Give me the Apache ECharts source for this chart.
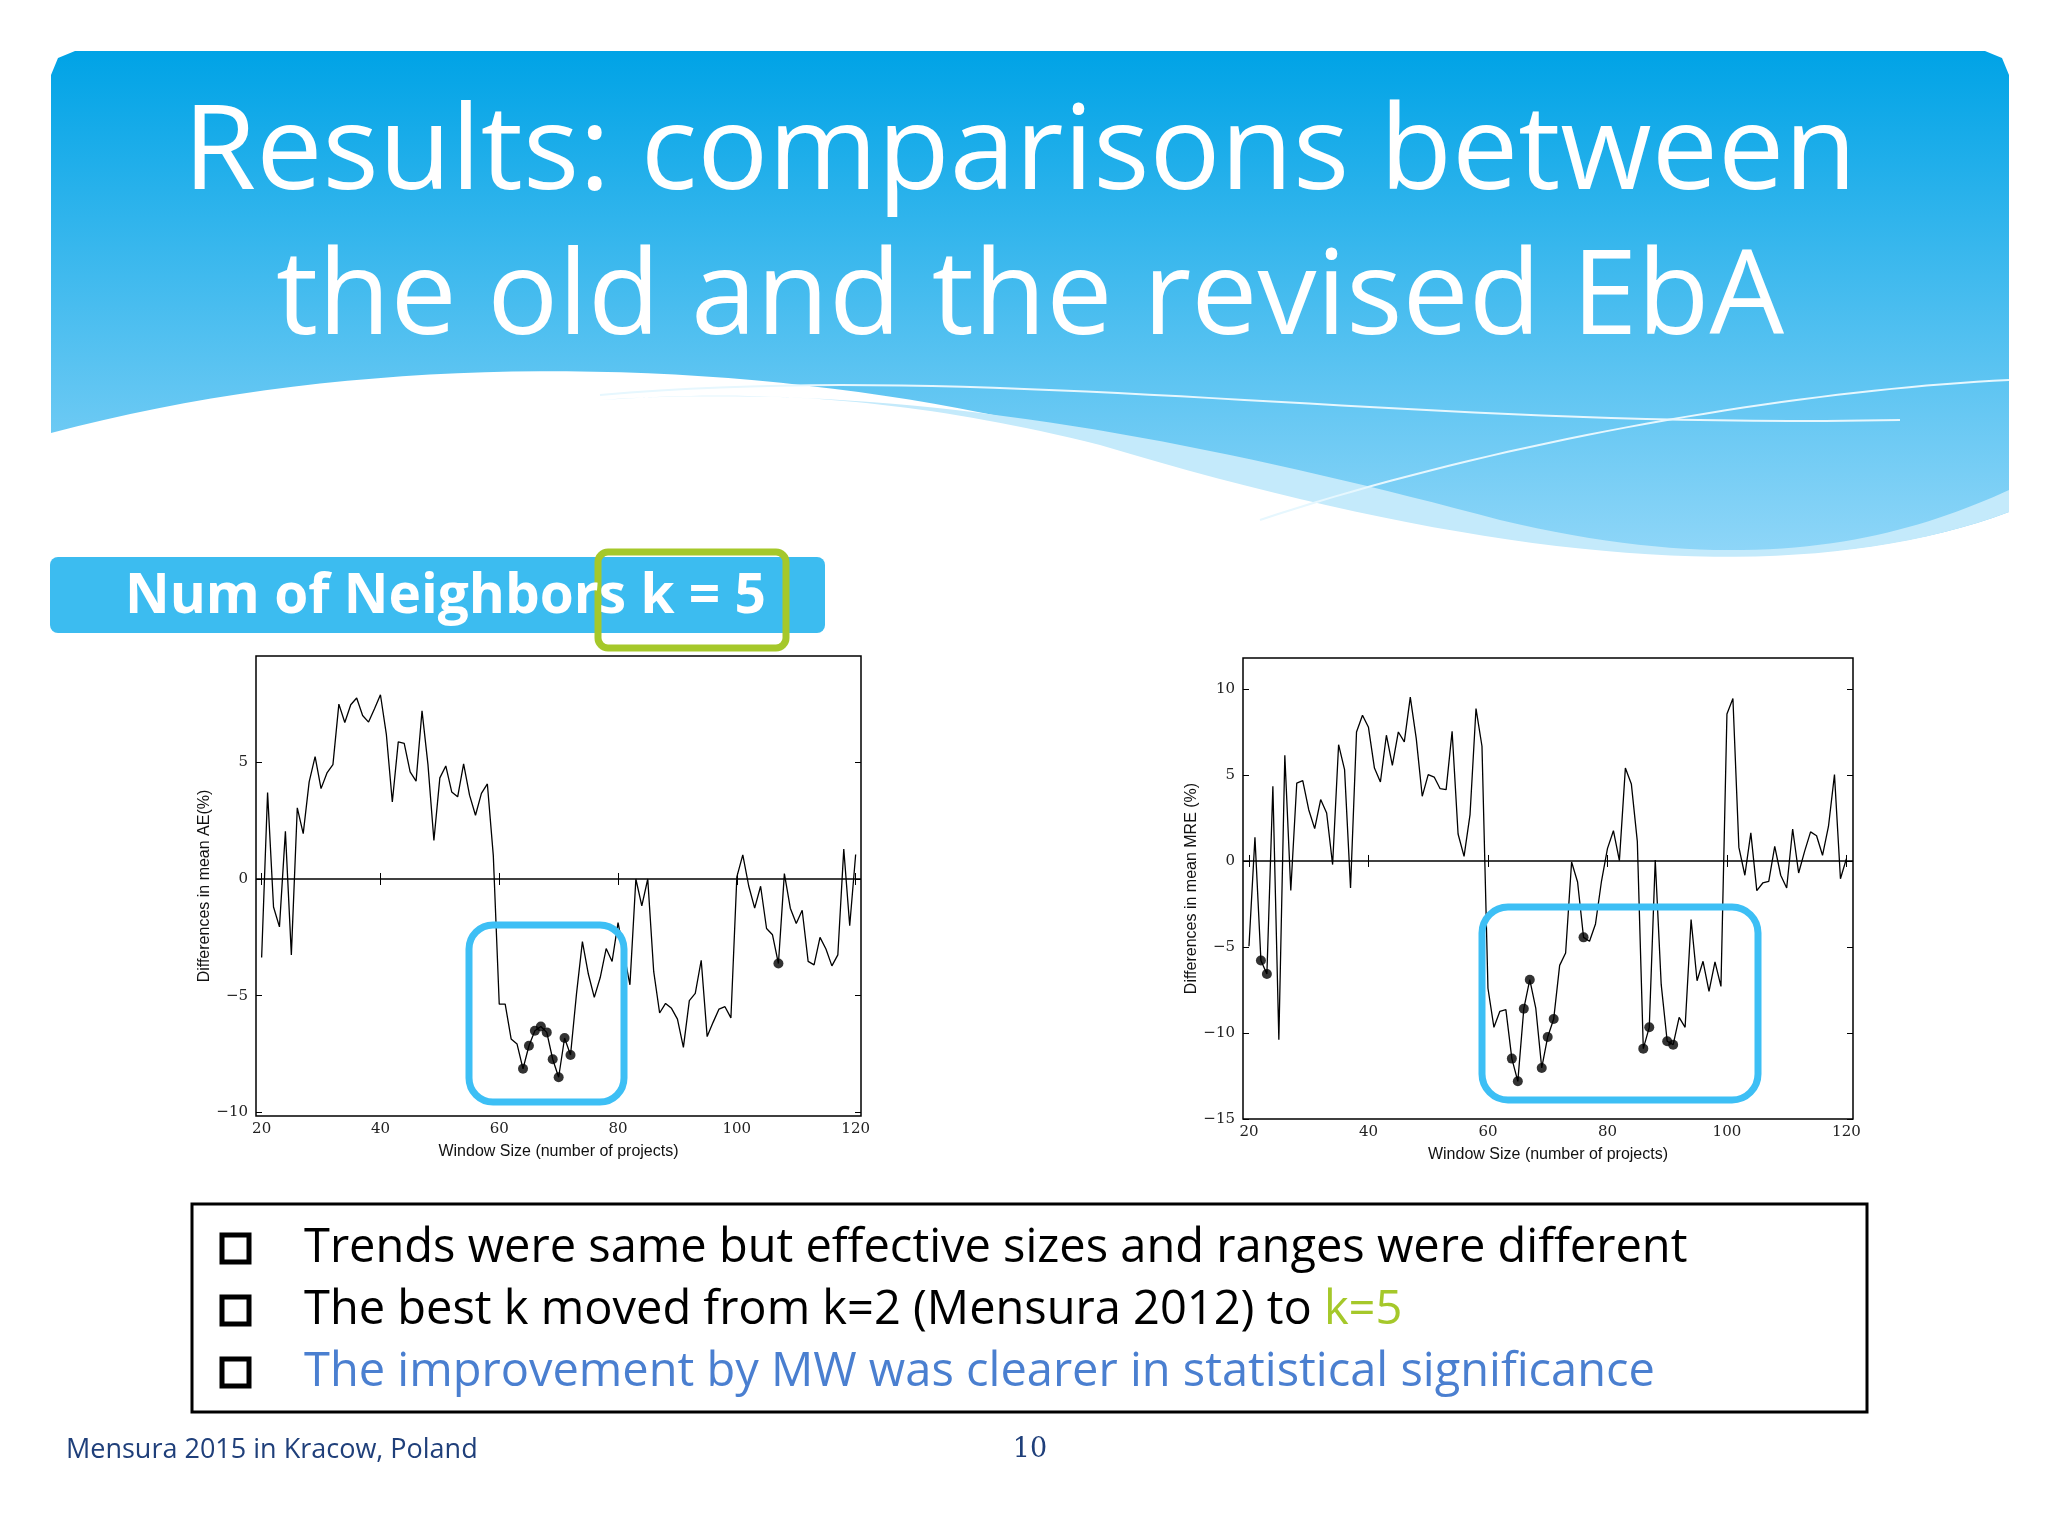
<!DOCTYPE html>
<html>
<head>
<meta charset="utf-8">
<script src="https://cdn.jsdelivr.net/npm/echarts@6/dist/echarts.min.js"></script>
<style>html,body{margin:0;padding:0;background:#fff}#main{width:2048px;height:1536px}</style>
</head>
<body>
<div id="main"></div>
<script>
// window sizes 20..120
var windowSizes = [];
for (var w = 20; w <= 120; w++) windowSizes.push(w);

// differences in mean AE (%)
var diffAE = [
  -3.36, 3.7, -1.2, -2.05, 2.04, -3.25, 3.05, 1.94, 4.16, 5.24,
  3.87, 4.54, 4.9, 7.49, 6.7, 7.46, 7.75, 7.0, 6.72, 7.29,
  7.89, 6.18, 3.3, 5.87, 5.81, 4.59, 4.19, 7.2, 4.9, 1.65,
  4.33, 4.84, 3.73, 3.52, 4.93, 3.59, 2.73, 3.67, 4.07, 1.0,
  -5.36, -5.36, -6.85, -7.07, -8.13, -7.14, -6.5, -6.32, -6.57, -7.72,
  -8.49, -6.81, -7.54, -4.93, -2.68, -4.07, -5.07, -4.22, -2.98, -3.53,
  -1.87, -3.2, -4.53, 0, -1.15, 0, -3.96, -5.74, -5.33, -5.54,
  -6.0, -7.21, -5.21, -4.9, -3.48, -6.75, -6.14, -5.57, -5.47, -5.95,
  0.09, 1.03, -0.3, -1.25, -0.31, -2.12, -2.39, -3.62, 0.23, -1.25,
  -1.91, -1.34, -3.53, -3.68, -2.5, -3.0, -3.72, -3.25, 1.28, -2.0,
  1.05
];
var sigAE = [64, 65, 66, 67, 68, 69, 70, 71, 72, 107];

// differences in mean MRE (%)
var diffMRE = [
  -4.96, 1.38, -5.79, -6.57, 4.34, -10.39, 6.14, -1.72, 4.53, 4.67,
  2.98, 1.88, 3.57, 2.79, -0.21, 6.76, 5.31, -1.57, 7.5, 8.47,
  7.77, 5.4, 4.59, 7.31, 5.56, 7.5, 6.92, 9.53, 7.11, 3.76,
  5.02, 4.88, 4.2, 4.15, 7.54, 1.57, 0.27, 2.69, 8.86, 6.67,
  -7.4, -9.67, -8.74, -8.64, -11.49, -12.81, -8.59, -6.9, -8.55, -12.03,
  -10.23, -9.19, -6.07, -5.35, -0.06, -1.22, -4.44, -4.67, -3.66, -1.18,
  0.72, 1.76, 0.02, 5.4, 4.48, 1.14, -10.91, -9.67, 0.06, -7.19,
  -10.48, -10.68, -9.09, -9.67, -3.41, -6.96, -5.83, -7.58, -5.87, -7.29,
  8.55, 9.44, 0.79, -0.83, 1.63, -1.72, -1.28, -1.18, 0.85, -0.83,
  -1.57, 1.86, -0.7, 0.56, 1.69, 1.47, 0.33, 2.02, 5.02, -1.03,
  0.14
];
var sigMRE = [22, 23, 64, 65, 66, 67, 69, 70, 71, 76, 86, 87, 90, 91];

var xTicks = [20, 40, 60, 80, 100, 120];
var yTicksAE = [-10, -5, 0, 5];
var yTicksMRE = [-15, -10, -5, 0, 5, 10];

var bullets = [
  {text: 'Trends were same but effective sizes and ranges were different'},
  {text: 'The best k moved from k=2 (Mensura 2012) to ', green: 'k=5'},
  {text: 'The improvement by MW was clearer in statistical significance', color: '#4a7fd0'}
];

var myChart = echarts.init(document.getElementById('main'));
var serif = 'DejaVu Serif';
var minus = function (v) { return String(v).replace('-', '\u2212'); };

function pairs(vals) {
  return windowSizes.map(function (x, i) { return [x, vals[i]]; });
}
function dots(idx, vals) {
  return idx.map(function (x) { return [x, vals[x - 20]]; });
}
// sample a cubic bezier into polygon points (decoration only)
function cubic(p0, p1, p2, p3) {
  var pts = [];
  for (var i = 0; i <= 40; i++) {
    var t = i / 40, u = 1 - t;
    pts.push([
      u*u*u*p0[0] + 3*u*u*t*p1[0] + 3*u*t*t*p2[0] + t*t*t*p3[0],
      u*u*u*p0[1] + 3*u*u*t*p1[1] + 3*u*t*t*p2[1] + t*t*t*p3[1]
    ]);
  }
  return pts;
}

function axesFor(gi, ymin, ymax, yTicks, xmin, xmax, name) {
  var tick = {show: true, inside: true, length: 6, lineStyle: {color: '#000'}};
  var line = {show: false};
  return {
    x: [
      {gridIndex: gi, type: 'value', min: xmin, max: xmax, axisLine: line, splitLine: {show: false},
       axisTick: Object.assign({customValues: xTicks}, tick),
       axisLabel: {customValues: xTicks, color: '#222', fontFamily: serif, fontSize: 15, margin: 6},
       name: 'Window Size (number of projects)', nameLocation: 'middle', nameGap: 28,
       nameTextStyle: {fontFamily: 'Liberation Sans', fontSize: 16, color: '#111'}},
      {gridIndex: gi, type: 'value', position: 'top', min: xmin, max: xmax, axisLine: line, splitLine: {show: false},
       axisTick: Object.assign({customValues: xTicks}, tick), axisLabel: {show: false}}
    ],
    y: [
      {gridIndex: gi, type: 'value', min: ymin, max: ymax, axisLine: line, splitLine: {show: false},
       axisTick: Object.assign({customValues: yTicks}, tick),
       axisLabel: {customValues: yTicks, formatter: minus, color: '#222', fontFamily: serif, fontSize: 15, margin: 8},
       name: name, nameLocation: 'middle', nameGap: 42,
       nameTextStyle: {fontFamily: 'Liberation Sans', fontSize: 16, color: '#111'}},
      {gridIndex: gi, type: 'value', position: 'right', min: ymin, max: ymax, axisLine: line, splitLine: {show: false},
       axisTick: Object.assign({customValues: yTicks}, tick), axisLabel: {show: false}}
    ]
  };
}

var a0 = axesFor(0, -10.15, 9.55, yTicksAE, 19.05, 120.9, 'Differences in mean AE(%)');
var a1 = axesFor(1, -15, 11.8, yTicksMRE, 19, 121.1, 'Differences in mean MRE (%)');

function lineSeries(xi, yi, vals) {
  return {
    type: 'line', xAxisIndex: xi, yAxisIndex: yi, data: pairs(vals), symbol: 'none',
    lineStyle: {color: '#000', width: 1.3}, silent: true,
    markLine: {symbol: 'none', silent: true, label: {show: false},
      lineStyle: {color: '#000', type: 'solid', width: 1.6}, data: [{yAxis: 0}]}
  };
}
function dotSeries(xi, yi, idx, vals) {
  return {type: 'scatter', xAxisIndex: xi, yAxisIndex: yi, data: dots(idx, vals),
    symbolSize: 10, itemStyle: {color: '#000'}, z: 5};
}

var bulletGraphics = [];
bullets.forEach(function (b, i) {
  var y = 1249 + i * 62;
  bulletGraphics.push({type: 'rect', shape: {x: 222, y: y - 14, width: 27, height: 27},
    style: {fill: 'none', stroke: '#000', lineWidth: 5}});
  bulletGraphics.push({type: 'text', x: 304, y: y, style: {
    text: b.green ? b.text + '{g|' + b.green + '}' : b.text,
    rich: {g: {fill: '#a5c82a', font: '47px "Open Sans"'}},
    fill: b.color || '#000', font: '47px "Open Sans"', verticalAlign: 'middle'}});
});

var headerPts = [[51, 75], [58, 58], [75, 51], [1985, 51], [2002, 58], [2009, 75]]
  .concat(cubic([2009, 512], [1800, 590], [1500, 560], [1100, 440]))
  .concat(cubic([1100, 440], [800, 360], [400, 340], [51, 433]));
var bandPts = cubic([600, 400], [900, 380], [1200, 440], [1500, 520])
  .concat(cubic([1500, 520], [1750, 580], [1900, 540], [2009, 490]))
  .concat([[2009, 512]])
  .concat(cubic([2009, 512], [1800, 590], [1500, 565], [1100, 445]))
  .concat(cubic([1100, 445], [900, 395], [750, 390], [600, 400]));

var option = {
  animation: false,
  grid: [
    {left: 256, top: 656, width: 605, height: 460, show: true, borderColor: '#000', borderWidth: 1.5, backgroundColor: '#fff'},
    {left: 1243, top: 658, width: 610, height: 461, show: true, borderColor: '#000', borderWidth: 1.5, backgroundColor: '#fff'}
  ],
  xAxis: a0.x.concat(a1.x),
  yAxis: a0.y.concat(a1.y),
  series: [
    lineSeries(0, 0, diffAE), dotSeries(0, 0, sigAE, diffAE),
    lineSeries(2, 2, diffMRE), dotSeries(2, 2, sigMRE, diffMRE)
  ],
  graphic: [
    // header banner
    {type: 'polygon', z: -10, shape: {points: headerPts},
     style: {fill: {type: 'linear', x: 0, y: 0, x2: 0, y2: 1, colorStops: [{offset: 0, color: '#00a3e6'}, {offset: 1, color: '#8fd6f8'}]}}},
    {type: 'polygon', z: -9, shape: {points: bandPts}, style: {fill: '#c4eafb'}},
    {type: 'polyline', z: -9, shape: {points: cubic([1260, 520], [1500, 440], [1800, 390], [2009, 380])},
     style: {fill: 'none', stroke: '#e6f7fe', lineWidth: 2}},
    {type: 'polyline', z: -9, shape: {points: cubic([600, 395], [1000, 360], [1400, 430], [1900, 420])},
     style: {fill: 'none', stroke: '#e6f7fe', lineWidth: 2}},
    {type: 'text', x: 1020, y: 155, style: {text: 'Results: comparisons between', fill: '#fff', font: '118px "Open Sans"', align: 'center', verticalAlign: 'middle'}},
    {type: 'text', x: 1030, y: 300, style: {text: 'the old and the revised EbA', fill: '#fff', font: '118px "Open Sans"', align: 'center', verticalAlign: 'middle'}},
    // subtitle bar
    {type: 'rect', shape: {x: 50, y: 557, width: 775, height: 76, r: 8}, style: {fill: '#3cbcf0'}},
    {type: 'rect', shape: {x: 598, y: 552, width: 188, height: 96, r: 10}, style: {fill: 'none', stroke: '#a5c82a', lineWidth: 7}},
    {type: 'text', x: 125, y: 597, style: {text: 'Num of Neighbors k = 5', fill: '#fff', font: 'bold 55px "Open Sans"', verticalAlign: 'middle'}},
    // highlight boxes
    {type: 'rect', z: 10, shape: {x: 469, y: 925, width: 155, height: 177, r: 24}, style: {fill: 'none', stroke: '#3dbff5', lineWidth: 7}},
    {type: 'rect', z: 10, shape: {x: 1482, y: 907, width: 276, height: 193, r: 26}, style: {fill: 'none', stroke: '#3dbff5', lineWidth: 7}},
    // bullet box
    {type: 'rect', shape: {x: 192, y: 1204, width: 1675, height: 208}, style: {fill: 'none', stroke: '#000', lineWidth: 3}}
  ].concat(bulletGraphics).concat([
    {type: 'text', x: 66, y: 1450, style: {text: 'Mensura 2015 in Kracow, Poland', fill: '#1f3f7a', font: '27px "Open Sans"', verticalAlign: 'middle'}},
    {type: 'text', x: 1030, y: 1450, style: {text: '10', fill: '#1f3f7a', font: '27px "DejaVu Serif"', align: 'center', verticalAlign: 'middle'}}
  ])
};
myChart.setOption(option);
</script>
</body>
</html>
